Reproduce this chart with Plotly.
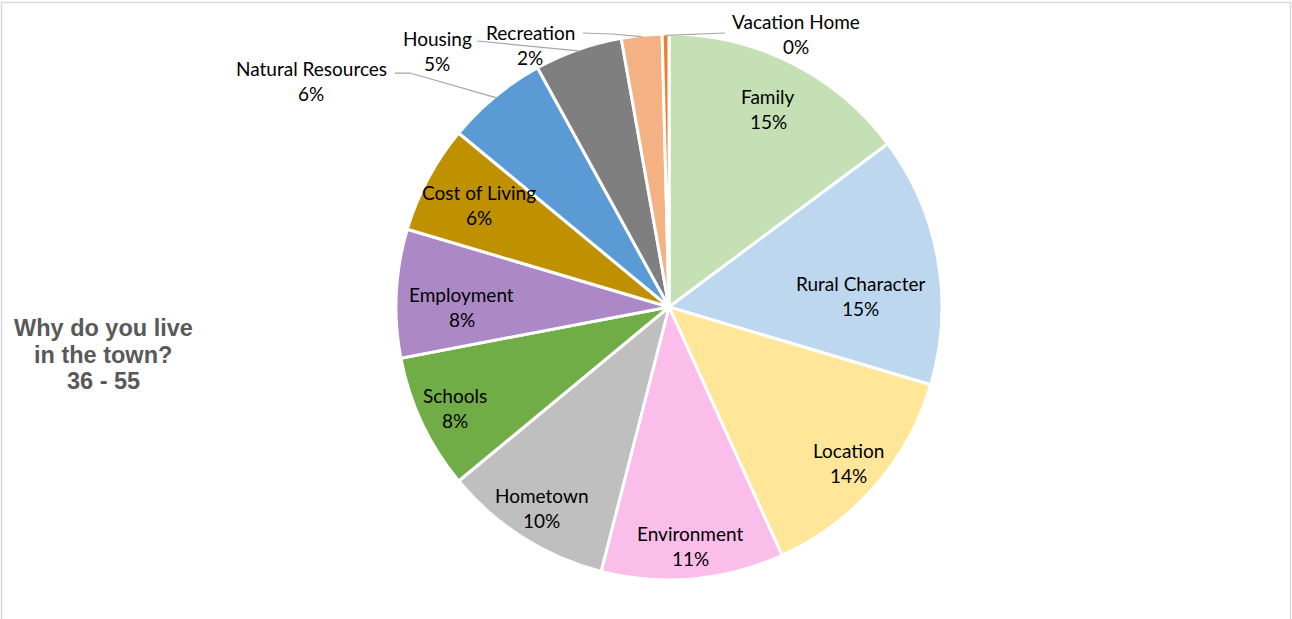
import math
import plotly.graph_objects as go

# survey answers (counts), clockwise from 12 o'clock
reasons = ['Family', 'Rural Character', 'Location', 'Environment', 'Hometown',
           'Schools', 'Employment', 'Cost of Living', 'Natural Resources',
           'Housing', 'Recreation', 'Vacation Home']
counts = [37, 37, 34, 27, 25, 20, 19, 16, 15, 13, 6, 1]
colors = ['#C5E0B4', '#BDD7EE', '#FFE699', '#FBBDE9', '#BFBFBF', '#70AD47',
          '#AD88C6', '#BF9000', '#5B9BD5', '#7F7F7F', '#F4B183', '#ED7D31']
title_lines = ['Why do you live', 'in the town?', '36 - 55']

W, H = 1292, 619
CX, CY, R = 669, 307, 273


def px(x):
    return x / W


def py(y):
    return 1 - y / H


# inside label placement (fraction of radius along mid-angle, plus small nudges)
label_r = {'Family': 0.81, 'Rural Character': 0.70, 'Location': 0.87, 'Environment': 0.88,
           'Hometown': 0.87, 'Schools': 0.865, 'Employment': 0.76, 'Cost of Living': 0.79}
label_nudge = {'Rural Character': (3, 22), 'Employment': (0, 10)}
# outside labels: label centre and leader line start (pixels)
outside = {
    'Natural Resources': dict(center=(311, 81), line=[(395, 73), (410, 73)]),
    'Housing': dict(center=(437, 51), line=[(477, 41)]),
    'Recreation': dict(center=(530, 45), line=[(583, 33), (612, 34)]),
    'Vacation Home': dict(center=(796, 34), line=[(725, 33)]),
}

total = sum(counts)
fig = go.Figure(go.Pie(
    labels=reasons, values=counts, sort=False, direction='clockwise', rotation=0,
    marker=dict(colors=colors, line=dict(color='white', width=3)),
    textinfo='none', hoverinfo='label+percent',
    domain=dict(x=[px(CX - R), px(CX + R)], y=[py(CY + R), py(CY - R)]),
))

annotations = []
shapes = []
font = dict(family='Lato, Carlito, sans-serif', size=19, color='#000000')
cum = 0
for name, c in zip(reasons, counts):
    mid = (cum + c / 2) / total * 2 * math.pi
    cum += c
    pct = f"{round(c / total * 100)}%"
    if name in outside:
        lx, ly = outside[name]['center']
        ex, ey = CX + R * 0.995 * math.sin(mid), CY - R * 0.995 * math.cos(mid)
        pts = outside[name]['line'] + [(ex, ey)]
        path = 'M ' + ' L '.join(f"{px(x)},{py(y)}" for x, y in pts)
        shapes.append(dict(type='path', xref='paper', yref='paper', path=path,
                           line=dict(color='#A6A6A6', width=1.25)))
    else:
        r = label_r[name] * R
        dx, dy = label_nudge.get(name, (0, 0))
        lx = CX + r * math.sin(mid) + dx
        ly = CY - r * math.cos(mid) + dy
    annotations.append(dict(x=px(lx), y=py(ly - 12.5), xref='paper', yref='paper',
                            text=name, showarrow=False, font=font,
                            xanchor='center', yanchor='middle'))
    annotations.append(dict(x=px(lx), y=py(ly + 12.5), xref='paper', yref='paper',
                            text=pct, showarrow=False, font=font,
                            xanchor='center', yanchor='middle'))

for i, line in enumerate(title_lines):
    annotations.append(dict(x=px(103), y=py(328 + i * 26.5), xref='paper', yref='paper',
                            text=f"<b>{line}</b>", showarrow=False,
                            font=dict(family='Liberation Sans, Arial, sans-serif',
                                      size=23.5, color='#595959'),
                            xanchor='center', yanchor='middle'))

# chart frame
shapes.append(dict(type='rect', xref='paper', yref='paper',
                   x0=px(1.5), x1=px(1290.5), y0=py(640), y1=py(2.5),
                   line=dict(color='#D9D9D9', width=1.5), layer='below'))

fig.update_layout(
    width=W, height=H, margin=dict(l=0, r=0, t=0, b=0),
    paper_bgcolor='white', plot_bgcolor='white', showlegend=False,
    annotations=annotations, shapes=shapes,
)

fig.write_html("out.html", config={'displayModeBar': False},
               post_script="document.body.style.margin='0';document.body.style.overflow='hidden';")
